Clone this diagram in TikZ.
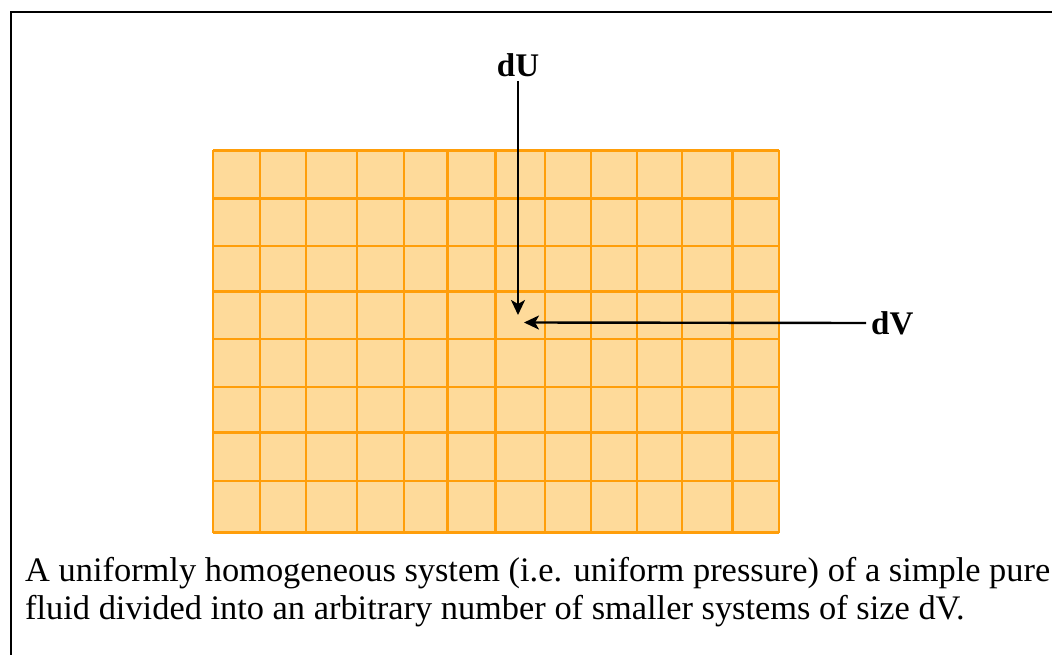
\documentclass[tikz,border=0pt]{standalone}
\usepackage{fontspec}
\setmainfont{Liberation Serif}
\usetikzlibrary{arrows.meta}
\definecolor{cellfill}{RGB}{254,218,154}
\definecolor{cellline}{RGB}{255,158,10}
\tikzset{
  lbl/.style={font=\fontsize{33}{38}\selectfont\bfseries, inner sep=0pt},
  conn/.style={line width=2.4pt, -{Stealth[length=15pt,width=14pt,inset=4pt]}},
}
\begin{document}
\begin{tikzpicture}[x=1pt,y=-1pt]
\useasboundingbox (0,0) rectangle (1052,655);
\clip (0,0) rectangle (1052,655);
% frame
\draw[line width=2.8pt] (1060,12) -- (11,12) -- (11,670);
% grid
\fill[cellfill] (213,150.5) rectangle (779,532.5);
\foreach \x in {213,260,306,357,404,447.5,495.5,545,591,637,682,732.5,779}
  \draw[cellline, line width=2.6pt] (\x,150.5) -- (\x,532.5);
\foreach \y in {150.5,198.5,246,291.5,339,387,432.5,481,532.5}
  \draw[cellline, line width=2.6pt] (213,\y) -- (779,\y);
% labels and arrows
\node[lbl] (dU) at (518,65) {dU};
\node[lbl, anchor=west] (dV) at (871,323) {dV};
\coordinate (tipU) at (518,315);
\coordinate (tipV) at (524,322.5);
\draw[conn] (dU.south) ++(0,4) coordinate (dUs) (dUs) -- (tipU);
\draw[conn] (dV.west) ++(-5,0) coordinate (dVw) (dVw) -- (tipV);
% caption
\node[anchor=base west, inner sep=0pt, align=left,
      font=\fontsize{34.4}{38}\selectfont] (cap) at (25,619)
  {A uniformly homogeneous system (i.e. uniform pressure) of a simple pure\\
   fluid divided into an arbitrary number of smaller systems of size dV.};
\end{tikzpicture}
\end{document}
